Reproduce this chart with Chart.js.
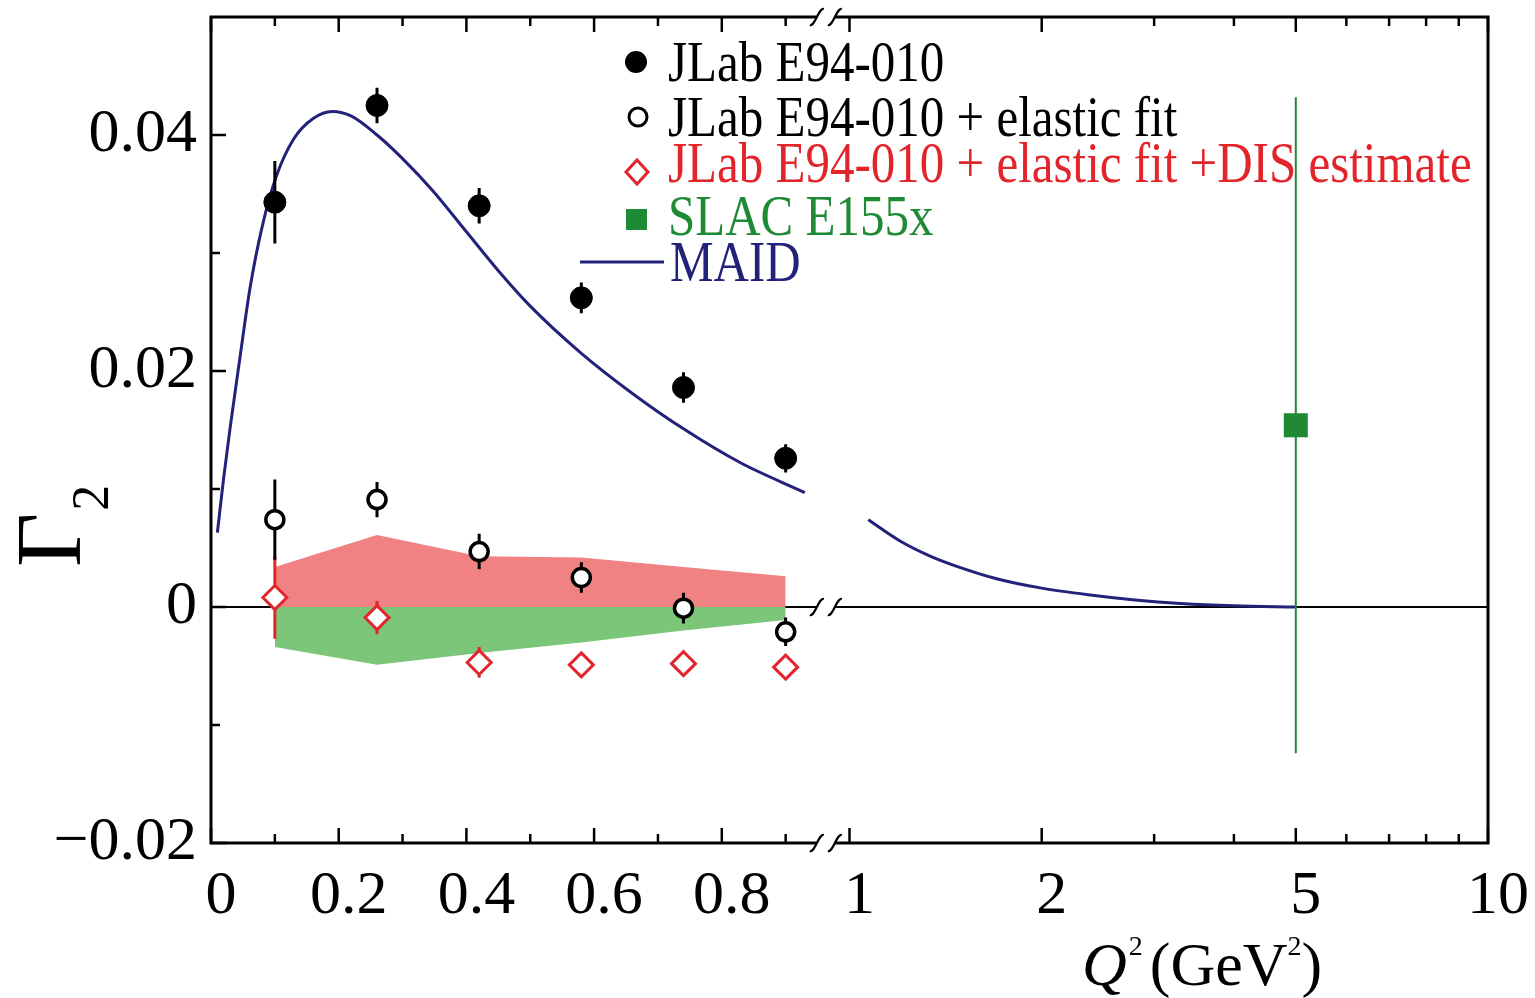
<!DOCTYPE html>
<html>
<head>
<meta charset="utf-8">
<script src="https://cdn.jsdelivr.net/npm/chart.js@4.4.0/dist/chart.umd.min.js"></script>
<style>
  html, body { margin: 0; padding: 0; background: #fff; overflow: hidden; }
</style>
</head>
<body>
<canvas id="chart" width="1535" height="998"></canvas>
<script>
// JLab E94-010 points
const jlabQ2 = [0.1, 0.26, 0.42, 0.58, 0.74, 0.9];
const jlabG2 = [0.0343, 0.0425, 0.0340, 0.0262, 0.0186, 0.0126];
const jlabErr = [0.0035, 0.0015, 0.0015, 0.0013, 0.0013, 0.0012];
// + elastic fit
const elasticG2 = [0.0074, 0.0091, 0.0047, 0.0025, -0.0001, -0.0021];
const elasticErr = [0.0034, 0.0015, 0.0015, 0.0013, 0.0013, 0.0012];
// + elastic fit + DIS estimate
const disG2 = [0.0008, -0.0009, -0.0047, -0.0049, -0.0048, -0.0051];
const disErr = [0.0035, 0.0014, 0.0013, 0.0007, 0.0008, 0.0006];
// systematic bands
const sysUpper = [0.0034, 0.0061, 0.0043, 0.0042, 0.0034, 0.0026];
const sysLower = [-0.0034, -0.0049, -0.0039, -0.0030, -0.0020, -0.0011];
// SLAC E155x
const slacQ2 = [5];
const slacG2 = [0.0154];
const slacErr = [0.0278];
// MAID curve (two pieces, gap at the axis break)
const maidQ2Low = [0.01, 0.02, 0.03, 0.045, 0.061, 0.08, 0.103, 0.13, 0.16, 0.19, 0.22, 0.26, 0.30, 0.347, 0.40, 0.45, 0.50, 0.58, 0.66, 0.74, 0.83, 0.93];
const maidG2Low = [0.0063, 0.0110, 0.0152, 0.0210, 0.0270, 0.0322, 0.0366, 0.0397, 0.0414, 0.0420, 0.0416, 0.0400, 0.0380, 0.0353, 0.0318, 0.0285, 0.0255, 0.0215, 0.0181, 0.0151, 0.0122, 0.0097];
const maidQ2High = [1.07, 1.2, 1.34, 1.5, 1.7, 2.0, 2.4, 2.8, 3.3, 4.0, 5.0];
const maidG2High = [0.0074, 0.0056, 0.0043, 0.0033, 0.0024, 0.0016, 0.0010, 0.0006, 0.0003, 0.0001, 0.0];

// tick labels
const xMajor = [0, 0.2, 0.4, 0.6, 0.8, 1, 2, 5, 10];
const xMajorLabels = ["0", "0.2", "0.4", "0.6", "0.8", "1", "2", "5", "10"];
const xMinor = [0.1, 0.3, 0.5, 0.7, 0.9, 3, 4, 6, 7, 8, 9];
const yMajor = [-0.02, 0, 0.02, 0.04];
const yMajorLabels = ["\u22120.02", "0", "0.02", "0.04"];
const yMinor = [-0.01, 0.01, 0.03];

const BLUE = "#23227a";
const RED = "#e2252b";
const GREEN = "#1f8a34";
const SERIF = "'Liberation Serif', 'DejaVu Serif', serif";
const BREAK_Q = 0.963; // where the axis is cut

// linear below 1, log scale from 1 to 10
function toAxis(q) {
  return q < 1 ? q : 1 + Math.log10(q);
}

function pts(qs, vals) {
  return qs.map((q, i) => ({ x: toAxis(q), y: vals[i] }));
}

function errPts(qs, vals, errs) {
  let out = [];
  qs.forEach((q, i) => {
    out.push({ x: toAxis(q), y: vals[i] - errs[i] });
    out.push({ x: toAxis(q), y: vals[i] + errs[i] });
    out.push({ x: toAxis(q), y: null });
  });
  return out;
}

let maidData = pts(maidQ2Low, maidG2Low);
maidData.push({ x: toAxis(1.0), y: null });
maidData = maidData.concat(pts(maidQ2High, maidG2High));

function breakMark(ctx, x, y) {
  ctx.save();
  ctx.fillStyle = "#fff";
  ctx.fillRect(x - 9, y - 4, 18, 8);
  ctx.strokeStyle = "#000";
  ctx.lineWidth = 2.2;
  [-9, 9].forEach(dx => {
    let cx = x + dx;
    ctx.beginPath();
    ctx.moveTo(cx - 7, y + 8);
    ctx.bezierCurveTo(cx - 2, y + 10, cx + 2, y - 10, cx + 7, y - 8);
    ctx.stroke();
  });
  ctx.restore();
}

const decorations = {
  id: "decorations",
  beforeDatasetsDraw(chart) {
    const { ctx, chartArea: a, scales: { y } } = chart;
    ctx.save();
    ctx.strokeStyle = "#000";
    ctx.lineWidth = 2;
    ctx.beginPath();
    ctx.moveTo(a.left, y.getPixelForValue(0));
    ctx.lineTo(a.right, y.getPixelForValue(0));
    ctx.stroke();
    ctx.restore();
  },
  afterDatasetsDraw(chart) {
    const { ctx, chartArea: a, scales: { x, y } } = chart;
    ctx.save();
    ctx.strokeStyle = "#000";
    ctx.lineWidth = 3;
    ctx.strokeRect(a.left, a.top, a.right - a.left, a.bottom - a.top);
    ctx.lineWidth = 2.5;
    // ticks on bottom and top
    const xt = xMajor.map(q => [q, 15]).concat(xMinor.map(q => [q, 9]));
    xt.forEach(([q, len]) => {
      const px = x.getPixelForValue(toAxis(q));
      ctx.beginPath();
      ctx.moveTo(px, a.bottom);
      ctx.lineTo(px, a.bottom - len);
      ctx.moveTo(px, a.top);
      ctx.lineTo(px, a.top + len);
      ctx.stroke();
    });
    // ticks on the left
    const yt = yMajor.map(v => [v, 15]).concat(yMinor.map(v => [v, 9]));
    yt.forEach(([v, len]) => {
      const py = y.getPixelForValue(v);
      ctx.beginPath();
      ctx.moveTo(a.left, py);
      ctx.lineTo(a.left + len, py);
      ctx.stroke();
    });
    ctx.restore();
    const bx = x.getPixelForValue(BREAK_Q);
    breakMark(ctx, bx, a.top);
    breakMark(ctx, bx, a.bottom);
    breakMark(ctx, bx, y.getPixelForValue(0));
  },
  afterDraw(chart) {
    const ctx = chart.ctx;
    ctx.save();
    // y title: rotated Gamma with subscript 2
    ctx.translate(80, 567);
    ctx.rotate(-Math.PI / 2);
    ctx.fillStyle = "#000";
    ctx.textBaseline = "alphabetic";
    ctx.font = "94px " + SERIF;
    ctx.fillText("\u0393", 0, 0);
    const gw = ctx.measureText("\u0393").width;
    ctx.font = "52px " + SERIF;
    ctx.fillText("2", gw + 2, 28);
    ctx.restore();

    // x title: Q^2 (GeV^2)
    ctx.save();
    ctx.fillStyle = "#000";
    ctx.textBaseline = "alphabetic";
    let tx = 1082;
    const base = 985;
    ctx.font = "italic 62px " + SERIF;
    ctx.fillText("Q", tx, base);
    tx += ctx.measureText("Q").width + 2;
    ctx.font = "28px " + SERIF;
    ctx.fillText("2", tx, base - 30);
    tx += ctx.measureText("2").width + 7;
    ctx.font = "62px " + SERIF;
    ctx.fillText("(GeV", tx, base);
    tx += ctx.measureText("(GeV").width;
    ctx.font = "28px " + SERIF;
    ctx.fillText("2", tx, base - 30);
    tx += ctx.measureText("2").width;
    ctx.font = "62px " + SERIF;
    ctx.fillText(")", tx, base);
    ctx.restore();

    // legend
    const rows = [
      { y: 62, text: "JLab E94-010", color: "#000", mark: "dot" },
      { y: 117, text: "JLab E94-010 + elastic fit", color: "#000", mark: "ring" },
      { y: 163, text: "JLab E94-010 + elastic fit +DIS estimate", color: RED, mark: "diamond" },
      { y: 216, text: "SLAC E155x", color: GREEN, mark: "square" },
      { y: 262, text: "MAID", color: BLUE, mark: "line" }
    ];
    rows.forEach(r => {
      ctx.save();
      if (r.mark === "dot") {
        ctx.fillStyle = "#000";
        ctx.beginPath(); ctx.arc(636, r.y, 11, 0, Math.PI * 2); ctx.fill();
      } else if (r.mark === "ring") {
        ctx.strokeStyle = "#000"; ctx.lineWidth = 3;
        ctx.beginPath(); ctx.arc(638, r.y, 9, 0, Math.PI * 2); ctx.stroke();
      } else if (r.mark === "diamond") {
        ctx.strokeStyle = RED; ctx.lineWidth = 3;
        ctx.beginPath();
        ctx.moveTo(637, r.y - 3); ctx.lineTo(648, r.y + 9); ctx.lineTo(637, r.y + 21); ctx.lineTo(626, r.y + 9);
        ctx.closePath(); ctx.stroke();
      } else if (r.mark === "square") {
        ctx.fillStyle = GREEN;
        ctx.fillRect(626, r.y - 7, 21, 21);
      } else {
        ctx.strokeStyle = BLUE; ctx.lineWidth = 3;
        ctx.beginPath(); ctx.moveTo(580, r.y); ctx.lineTo(664, r.y); ctx.stroke();
      }
      ctx.fillStyle = r.color;
      ctx.font = "56px " + SERIF;
      ctx.textBaseline = "alphabetic";
      ctx.translate(r.mark === "line" ? 670 : 668, r.y + 19);
      ctx.scale(0.875, 1);
      ctx.fillText(r.text, 0, 0);
      ctx.restore();
    });
  }
};

new Chart(document.getElementById("chart"), {
  type: "line",
  data: {
    datasets: [
      {
        label: "SLAC E155x", data: pts(slacQ2, slacG2), showLine: false,
        pointStyle: "rect", pointRadius: 17, backgroundColor: GREEN, borderColor: GREEN, borderWidth: 0, order: 1
      },
      {
        label: "JLab E94-010 + elastic fit +DIS estimate", data: pts(jlabQ2, disG2), showLine: false,
        pointStyle: "rectRot", pointRadius: 12, backgroundColor: "#fff", borderColor: RED, borderWidth: 3, order: 1
      },
      {
        label: "JLab E94-010 + elastic fit", data: pts(jlabQ2, elasticG2), showLine: false,
        pointStyle: "circle", pointRadius: 9, backgroundColor: "#fff", borderColor: "#000", borderWidth: 3.5, order: 1
      },
      {
        label: "JLab E94-010", data: pts(jlabQ2, jlabG2), showLine: false,
        pointStyle: "circle", pointRadius: 11, backgroundColor: "#000", borderColor: "#000", borderWidth: 1, order: 1
      },
      { data: errPts(jlabQ2, jlabG2, jlabErr), borderColor: "#000", borderWidth: 3, pointRadius: 0, spanGaps: false, order: 2 },
      { data: errPts(jlabQ2, elasticG2, elasticErr), borderColor: "#000", borderWidth: 3, pointRadius: 0, spanGaps: false, order: 2 },
      { data: errPts(jlabQ2, disG2, disErr), borderColor: RED, borderWidth: 3, pointRadius: 0, spanGaps: false, order: 2 },
      { data: errPts(slacQ2, slacG2, slacErr), borderColor: GREEN, borderWidth: 2, pointRadius: 0, spanGaps: false, order: 2 },
      {
        label: "MAID", data: maidData, borderColor: BLUE, borderWidth: 3, pointRadius: 0,
        cubicInterpolationMode: "monotone", spanGaps: false, order: 3
      },
      {
        data: pts(jlabQ2, sysUpper), borderWidth: 0, pointRadius: 0, tension: 0,
        fill: "origin", backgroundColor: "#f08283", order: 4
      },
      {
        data: pts(jlabQ2, sysLower), borderWidth: 0, pointRadius: 0, tension: 0,
        fill: "origin", backgroundColor: "#7cc67a", order: 4
      }
    ]
  },
  options: {
    responsive: false,
    devicePixelRatio: 1,
    animation: false,
    events: [],
    layout: { padding: { top: 17, right: 47, left: 0, bottom: 0 } },
    plugins: { legend: { display: false }, tooltip: { enabled: false } },
    scales: {
      x: {
        type: "linear", min: 0, max: 2,
        grid: { display: false, drawTicks: false },
        border: { display: false },
        afterFit(s) { s.height = 155; s.paddingLeft = 0; s.paddingRight = 0; },
        afterBuildTicks(s) { s.ticks = xMajor.map(q => ({ value: toAxis(q) })); },
        ticks: {
          callback: (v, i) => xMajorLabels[i],
          font: { family: SERIF, size: 62 },
          color: "#000", padding: 17, labelOffset: 10, maxRotation: 0, autoSkip: false
        }
      },
      y: {
        type: "linear", min: -0.02, max: 0.05,
        grid: { display: false, drawTicks: false },
        border: { display: false },
        afterFit(s) { s.width = 211; s.paddingTop = 0; s.paddingBottom = 0; },
        afterBuildTicks(s) { s.ticks = yMajor.map(v => ({ value: v })); },
        ticks: {
          callback: (v, i) => yMajorLabels[i],
          font: { family: SERIF, size: 62 },
          color: "#000", padding: 14, autoSkip: false
        }
      }
    }
  },
  plugins: [decorations]
});
</script>
</body>
</html>
